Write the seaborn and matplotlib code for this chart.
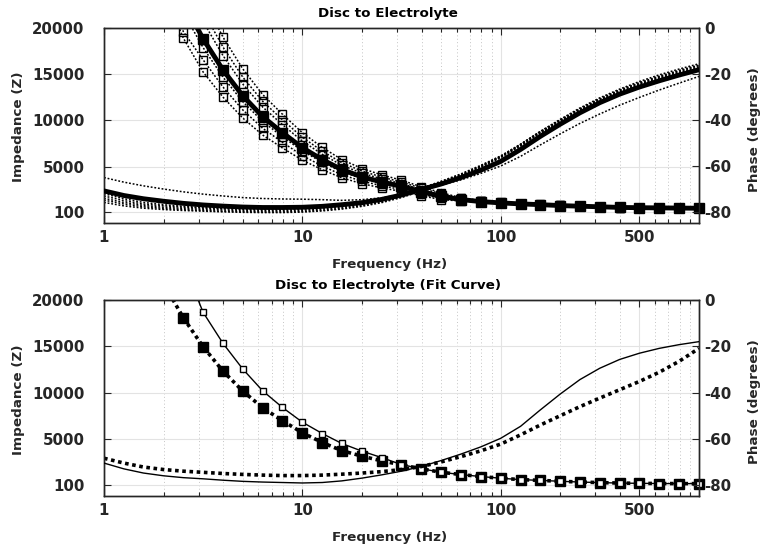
import numpy as np
import matplotlib
matplotlib.use("Agg")
import matplotlib.pyplot as plt
import seaborn as sns
from matplotlib.ticker import LogLocator, NullFormatter
from matplotlib.patches import Rectangle

# ---------------- data ----------------
freq = [1, 1.26, 1.58, 2, 2.51, 3.16, 3.98, 5.01, 6.31, 7.94, 10, 12.6, 15.8, 20, 25.1,
        31.6, 39.8, 50.1, 63.1, 79.4, 100, 126, 158, 200, 251, 316, 398, 501, 631, 794, 1000]

# top panel: mean of samples (thick) and individual samples (dotted)
z_mean = [60000, 47000, 37000, 29500, 22800, 18800, 15450, 12650, 10400, 8670, 7050, 5760, 4690, 3900, 3350,
          2880, 2300, 1780, 1450, 1230, 1090, 980, 900, 800, 730, 670, 600, 570, 550, 530, 510]
z_s1 = [73800, 57810, 45510, 36290, 28040, 23120, 19000, 15560, 12790, 10660, 8670, 7080, 5770, 4800, 4120,
        3540, 2830, 2190, 1650, 1340, 1140, 1010, 920, 820, 750, 690, 615, 585, 565, 545, 525]
z_s2 = [69600, 54520, 42920, 34220, 26450, 21810, 17920, 14670, 12060, 10060, 8180, 6680, 5440, 4520, 3890,
        3340, 2670, 2060, 1580, 1300, 1120, 1000, 910, 810, 740, 680, 610, 578, 558, 538, 518]
z_s3 = [66000, 51700, 40700, 32450, 25080, 20680, 17000, 13920, 11440, 9540, 7760, 6340, 5160, 4290, 3690,
        3170, 2530, 1960, 1540, 1280, 1110, 990, 905, 805, 735, 675, 605, 575, 555, 535, 515]
z_s4 = [57000, 44650, 35150, 28030, 21660, 17860, 14680, 12020, 9880, 8240, 6700, 5470, 4460, 3710, 3180,
        2740, 2190, 1690, 1420, 1210, 1080, 970, 895, 795, 725, 665, 595, 565, 545, 525, 505]
z_s5 = [52800, 41360, 32560, 25960, 19600, 16540, 13600, 11130, 9150, 7630, 6200, 5070, 4130, 3430, 2950,
        2530, 2020, 1570, 1350, 1180, 1070, 960, 890, 790, 720, 660, 590, 560, 540, 520, 500]
z_s6 = [48600, 38070, 29970, 23900, 18900, 15230, 12510, 10250, 8420, 7020, 5710, 4670, 3800, 3160, 2710,
        2330, 1860, 1440, 1300, 1160, 1060, 950, 880, 785, 715, 655, 585, 555, 535, 515, 495]

ph_mean = [-70.8, -72.8, -74.2, -75.3, -76.2, -76.9, -77.4, -77.8, -78.0, -78.0, -77.9, -77.5, -76.8, -75.9, -74.5,
           -72.6, -70.2, -67.8, -65.0, -61.8, -58.0, -52.8, -47.2, -41.8, -36.9, -32.5, -28.8, -25.7, -23.0, -20.5, -18.2]
ph_s1 = [-65.0, -67.0, -68.6, -70.0, -71.2, -72.2, -73.0, -73.7, -74.1, -74.3, -74.4, -74.6, -74.9, -74.6, -73.8,
         -72.3, -70.4, -68.3, -66.0, -63.2, -60.0, -55.8, -50.9, -46.0, -41.5, -37.4, -33.6, -30.2, -27.0, -24.0, -21.1]
ph_s2 = [-73.0, -75.0, -76.5, -77.3, -77.9, -78.3, -78.6, -78.8, -78.9, -78.9, -78.7, -78.2, -77.4, -76.2, -74.6,
         -72.5, -69.8, -66.8, -63.6, -59.9, -55.8, -50.7, -45.3, -40.1, -35.3, -31.0, -27.2, -24.0, -21.2, -18.7, -16.4]
ph_s3 = [-74.0, -75.8, -77.1, -77.9, -78.4, -78.8, -79.1, -79.3, -79.4, -79.4, -79.2, -78.7, -77.9, -76.7, -75.1,
         -73.0, -70.3, -67.3, -64.0, -60.3, -56.2, -51.1, -45.7, -40.5, -35.7, -31.4, -27.6, -24.4, -21.6, -19.2, -16.9]
ph_s4 = [-74.8, -76.5, -77.7, -78.4, -78.9, -79.3, -79.6, -79.8, -79.9, -79.9, -79.7, -79.2, -78.4, -77.2, -75.6,
         -73.4, -70.6, -67.5, -64.1, -60.2, -55.9, -50.6, -45.0, -39.7, -34.8, -30.4, -26.6, -23.3, -20.4, -17.9, -15.6]
ph_s5 = [-75.8, -77.3, -78.3, -78.9, -79.3, -79.6, -79.9, -80.1, -80.2, -80.2, -80.0, -79.5, -78.7, -77.5, -75.9,
         -73.7, -70.9, -67.8, -64.4, -60.6, -56.4, -51.3, -45.9, -40.7, -36.0, -31.7, -27.9, -24.7, -21.9, -19.5, -17.3]
ph_s6 = [-72.0, -74.2, -75.8, -76.8, -77.5, -78.0, -78.3, -78.5, -78.6, -78.6, -78.4, -78.0, -77.2, -76.0, -74.4,
         -72.3, -69.6, -66.6, -63.4, -59.7, -55.6, -50.5, -45.1, -39.9, -35.1, -30.8, -27.0, -23.8, -21.0, -18.5, -16.2]

# bottom panel: measured (thin solid) and fit curve (thick dotted)
z_meas = [63000, 50000, 39000, 30500, 24000, 18675, 15340, 12570, 10230, 8440, 6860, 5640, 4570, 3740, 3050,
          2300, 1850, 1470, 1225, 1010, 830, 680, 600, 500, 420, 360, 310, 280, 260, 250, 250]
z_fit = [38000, 31500, 26000, 21750, 18100, 14970, 12350, 10200, 8410, 7010, 5720, 4670, 3800, 3200, 2700,
         2270, 1840, 1470, 1225, 1010, 830, 680, 600, 500, 420, 360, 310, 280, 260, 250, 250]
ph_meas = [-70.5, -73.0, -74.8, -76.0, -76.8, -77.3, -77.9, -78.4, -78.7, -78.9, -79.1, -78.9, -78.2, -77.0, -75.6,
           -74.0, -72.0, -69.4, -66.6, -63.5, -59.8, -54.6, -47.6, -40.6, -34.4, -29.5, -25.7, -23.0, -20.9, -19.3, -18.0]
ph_fit = [-68.4, -70.5, -72.2, -73.3, -74.0, -74.5, -75.0, -75.4, -75.7, -75.9, -75.9, -75.7, -75.3, -74.8, -74.2,
          -73.3, -72.0, -70.0, -67.7, -65.2, -62.3, -58.3, -54.1, -50.0, -46.1, -42.4, -38.8, -35.2, -31.2, -26.5, -20.9]

titles = ["Disc to Electrolyte", "Disc to Electrolyte (Fit Curve)"]
x_label = "Frequency (Hz)"
z_label = "Impedance (Z)"
ph_label = "Phase (degrees)"
x_ticks = [1, 10, 100, 500]
x_tick_labels = ["1", "10", "100", "500"]
z_ticks = [100, 5000, 10000, 15000, 20000]
z_tick_labels = ["100", "5000", "10000", "15000", "20000"]
ph_ticks = [-80, -60, -40, -20, 0]
ph_tick_labels = ["-80", "-60", "-40", "-20", "0"]

# ---------------- style ----------------
sns.set_theme(style="ticks")
plt.rcParams["font.family"] = ["DejaVu Sans"]
plt.rcParams["font.weight"] = "bold"
plt.rcParams["axes.labelweight"] = "bold"
plt.rcParams["axes.titleweight"] = "bold"

W, H = 761, 550
fig = plt.figure(figsize=(W / 100, H / 100), dpi=100)
ax_l, ax_r = 104, 699
panels = [(27.8, 222.7), (300.0, 495.7)]
spine_col = "#262626"
TXT = "#262626"


def line(ax, y, lw, ls, marker=None, ms=0, mfc="black", mew=1.0, z=2):
    kw = dict(x=freq, y=y, ax=ax, color="black", linewidth=lw, linestyle=ls,
              estimator=None, sort=False, legend=False, zorder=z)
    if marker:
        kw.update(marker=marker, markersize=ms, markerfacecolor=mfc,
                  markeredgecolor="black", markeredgewidth=mew)
    sns.lineplot(**kw)


axes = []
for (top, bot) in panels:
    ax = fig.add_axes([ax_l / W, 1 - bot / H, (ax_r - ax_l) / W, (bot - top) / H])
    axr = ax.twinx()
    axes.append((ax, axr, top, bot))

dot_thin = (0, (1.2, 1.2))
dot_thick = (0, (1.0, 1.0))

# top panel
ax, axr, _, _ = axes[0]
for zs in [z_s1, z_s2, z_s3, z_s4, z_s5, z_s6]:
    line(ax, zs, 1.1, dot_thin, marker="s", ms=5.5, mfc="none", mew=1.0, z=2)
line(ax, z_mean, 3.5, "-", marker="s", ms=7.5, mfc="black", z=3)
for ps in [ph_s1, ph_s2, ph_s3, ph_s4, ph_s5, ph_s6]:
    line(axr, ps, 1.1, dot_thin, z=2)
line(axr, ph_mean, 3.5, "-", z=3)

# bottom panel
ax, axr, _, _ = axes[1]
line(ax, z_fit, 2.6, dot_thick, marker="s", ms=7, mfc="black", z=2)
line(ax, z_meas, 1.0, "-", marker="s", ms=4.8, mfc="white", mew=1.0, z=3)
line(axr, ph_fit, 2.6, dot_thick, z=2)
line(axr, ph_meas, 1.0, "-", z=3)

for i, (ax, axr, top, bot) in enumerate(axes):
    ax.set_xscale("log")
    ax.set_xlim(1, 1000)
    ax.set_ylim(-1050, 20000)
    axr.set_ylim(-84.6, 0)
    ax.set_xticks(x_ticks)
    ax.set_xticklabels(x_tick_labels)
    ax.xaxis.set_minor_locator(LogLocator(base=10, subs=np.arange(2, 10)))
    ax.xaxis.set_minor_formatter(NullFormatter())
    ax.set_yticks(z_ticks)
    ax.set_yticklabels(z_tick_labels)
    axr.set_yticks(ph_ticks)
    axr.set_yticklabels(ph_tick_labels)
    ax.set_xlabel("")
    ax.set_ylabel("")
    axr.set_ylabel("")

    # let the markers at the right edge show fully (MATLAB-like), clip only at top/bottom
    for ln in ax.get_lines():
        ln.set_clip_path(Rectangle((-0.02, 0), 1.04, 1, transform=ax.transAxes))

    ax.tick_params(axis="x", which="both", direction="in", top=True, bottom=True,
                   color=spine_col, width=0.8)
    ax.tick_params(axis="x", which="major", length=5, pad=5, labelsize=10.8, labelcolor=TXT)
    ax.tick_params(axis="x", which="minor", length=3)
    ax.tick_params(axis="y", direction="in", left=True, right=False, length=5, width=0.8,
                   pad=14, labelsize=10.8, labelcolor=TXT, color=spine_col)
    axr.tick_params(axis="y", direction="in", length=5, width=0.8, pad=4,
                    labelsize=10.8, labelcolor=TXT, color=spine_col)
    for lab in ax.get_xticklabels() + ax.get_yticklabels() + axr.get_yticklabels():
        lab.set_fontweight("bold")

    ax.set_axisbelow(True)
    ax.grid(True, which="major", axis="both", color="#e3e3e3", linewidth=0.8, linestyle="-")
    ax.grid(True, which="minor", axis="x", color="#c4c4c4", linewidth=0.7, linestyle=(0, (1, 2.5)))
    axr.grid(False)
    for a in (ax, axr):
        for s in a.spines.values():
            s.set_color(spine_col)
            s.set_linewidth(1.0)
            s.set_visible(True)

    mid = (top + bot) / 2
    fig.text(0.478 * (ax_r - ax_l) / W + ax_l / W, 1 - (top - 14.5) / H, titles[i],
             ha="center", va="center", fontsize=9.7, fontweight="bold", color="black")
    fig.text(390 / W, 1 - (bot + 42) / H, x_label, ha="center", va="center",
             fontsize=9.7, fontweight="bold", color=TXT)
    fig.text(18.5 / W, 1 - (mid + 2) / H, z_label, ha="center", va="center", rotation=90,
             fontsize=9.7, fontweight="bold", color=TXT)
    fig.text(754.5 / W, 1 - (mid + 4) / H, ph_label, ha="center", va="center", rotation=90,
             fontsize=9.7, fontweight="bold", color=TXT)

fig.savefig("out.png", dpi=100, facecolor="white")
